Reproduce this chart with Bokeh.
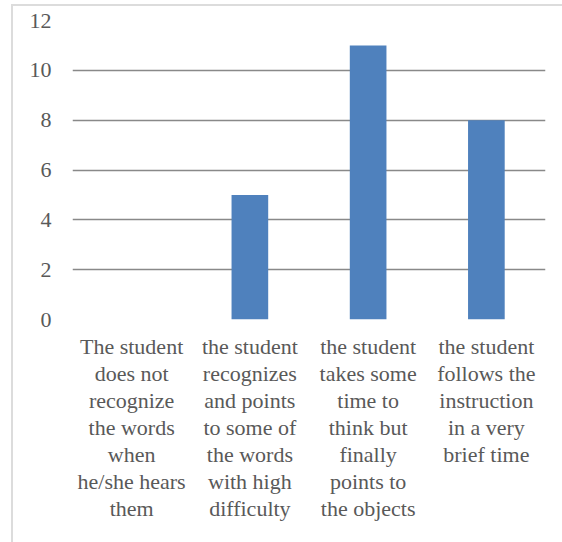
from bokeh.plotting import figure
from bokeh.models import Range1d, FixedTicker, ColumnDataSource, CategoricalAxis, FactorRange
from bokeh.embed import file_html
from bokeh.resources import INLINE

label_lines = [
    ["The student", "does not", "recognize", "the words", "when", "he/she hears", "them"],
    ["the student", "recognizes", "and points", "to some of", "the words", "with high", "difficulty"],
    ["the student", "takes some", "time to", "think but", "finally", "points to", "the objects"],
    ["the student", "follows the", "instruction", "in a very", "brief time"],
]
categories = [" ".join(l) for l in label_lines]
values = [0, 5, 11, 8]
y_ticks = [0, 2, 4, 6, 8, 10, 12]

FONT = "Liberation Serif"
src = ColumnDataSource(data=dict(cat=categories, val=values))

p = figure(x_range=categories, y_range=Range1d(0, 12),
           width=550, height=537, frame_width=473, frame_height=299,
           output_backend="svg", toolbar_location=None,
           min_border_left=59, min_border_top=14, min_border_right=17, min_border_bottom=224)
p.margin = (4, 0, 0, 11)
p.styles = {"border-left": "2px solid #dcdcdc", "border-top": "2px solid #dcdcdc"}

p.vbar(x="cat", top="val", width=0.31, source=src, fill_color="#4F81BD", line_color=None)

p.outline_line_color = None
p.xgrid.grid_line_color = None
p.ygrid.ticker = FixedTicker(ticks=y_ticks)
p.ygrid.grid_line_color = "#898989"
p.ygrid.grid_line_width = 1.5
p.yaxis.ticker = FixedTicker(ticks=y_ticks)


def style_axis(ax):
    ax.axis_line_color = None
    ax.major_tick_line_color = None
    ax.minor_tick_line_color = None
    ax.major_tick_in = 0
    ax.major_tick_out = 0
    ax.major_label_text_font = FONT
    ax.major_label_text_font_size = "22px"
    ax.major_label_text_color = "#595959"


style_axis(p.yaxis[0])
p.yaxis.major_label_standoff = 21
p.xaxis.visible = False

# one stacked axis per text line of the category labels
n_lines = max(len(l) for l in label_lines)
for i in range(n_lines):
    row, seen = [], set()
    for l in label_lines:
        t = l[i] if i < len(l) else " "
        while t in seen:
            t += "\u200b"
        seen.add(t)
        row.append(t)
    name = "row%d" % i
    p.extra_x_ranges[name] = FactorRange(factors=row)
    ax = CategoricalAxis(x_range_name=name)
    style_axis(ax)
    ax.group_text_font = FONT
    ax.subgroup_text_font = FONT
    ax.group_text_font_size = "22px"
    ax.subgroup_text_font_size = "22px"
    ax.group_text_color = "#595959"
    ax.subgroup_text_color = "#595959"
    ax.major_label_standoff = 14 if i == 0 else -1
    p.add_layout(ax, "below")

open("out.html", "w").write(file_html(p, INLINE))
